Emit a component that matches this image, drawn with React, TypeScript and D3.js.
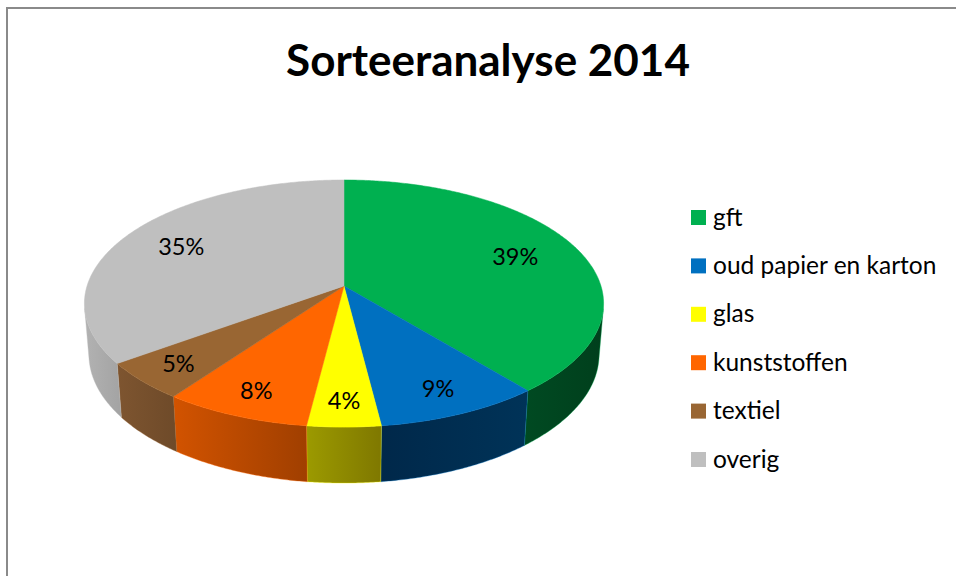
import React from 'react';
import * as d3 from 'd3';

const title = 'Sorteeranalyse 2014';
const categories = ['gft', 'oud papier en karton', 'glas', 'kunststoffen', 'textiel', 'overig'];
const values = [39, 9, 4, 8, 5, 35];
const topColors = ['#00B050', '#0070C0', '#FFFF00', '#FF6600', '#996633', '#BFBFBF'];
const sideLeft = ['#004a22', '#00284a', '#9c9a00', '#d25300', '#7e5530', '#b2b2b2'];
const sideRight = ['#003f1c', '#003358', '#7f7800', '#a03f00', '#6e4a29', '#a3a3a3'];

const W = 956;
const H = 576;

// 3D projection parameters
const cx = 344;
const cy = 286;
const R = 0.1606;
const D = 1;
const F = 1600;
const sinP = 0.471;
const cosP = 0.882;
const depthH = 0.0365;

function proj(a: number, r: number, Y: number): [number, number] {
  const X = r * R * Math.sin(a);
  const Z = r * R * Math.cos(a);
  const depth = Z * cosP - Y * sinP;
  const k = F / (D + depth);
  return [cx + X * k, cy - (Z * sinP + Y * cosP) * k];
}

function arcPts(a0: number, a1: number, Y: number): [number, number][] {
  const n = Math.max(2, Math.ceil(Math.abs(a1 - a0) / (Math.PI / 360)));
  const pts: [number, number][] = [];
  for (let i = 0; i <= n; i++) {
    const a = a0 + ((a1 - a0) * i) / n;
    pts.push(proj(a, 1, Y));
  }
  return pts;
}

export default function App() {
  const total = d3.sum(values);
  const pie = d3.pie<number>().sort(null).value((d) => d);
  const arcs = pie(values);
  const line = d3.line();

  const visMin = Math.acos(-R / (D * cosP));
  const visMax = 2 * Math.PI - visMin;

  const walls = arcs
    .map((d, i) => {
      const a0 = Math.max(d.startAngle, visMin);
      const a1 = Math.min(d.endAngle, visMax);
      if (a1 <= a0) return null;
      const top = arcPts(a0, a1, 0);
      const bot = arcPts(a1, a0, -depthH);
      const pts = [...top, ...bot];
      const xs = pts.map((p) => p[0]);
      return { i, path: line(pts) + 'Z', x0: d3.min(xs)!, x1: d3.max(xs)! };
    })
    .filter((w) => w !== null) as { i: number; path: string; x0: number; x1: number }[];

  const tops = arcs.map((d, i) => {
    const pts = [proj(0, 0, 0), ...arcPts(d.startAngle, d.endAngle, 0)];
    return { i, path: line(pts) + 'Z' };
  });

  const labelPos = arcs.map((d, i) => {
    const mid = (d.startAngle + d.endAngle) / 2;
    const t = 0.85 - 0.3 * (values[i] / total);
    return proj(mid, t, 0);
  });

  const legendX = 691;
  const legendY0 = 210;
  const legendStep = 48.4;

  return (
    <svg width={W} height={H} style={{ position: 'absolute', left: 0, top: 0 }}>
      <defs>
        {walls.map((w) => (
          <linearGradient key={w.i} id={`wall${w.i}`} gradientUnits="userSpaceOnUse" x1={w.x0} x2={w.x1} y1={0} y2={0}>
            <stop offset="0%" stopColor={sideLeft[w.i]} />
            <stop offset="100%" stopColor={sideRight[w.i]} />
          </linearGradient>
        ))}
      </defs>
      <rect x={0} y={0} width={W} height={H} fill="#ffffff" />
      <rect x={7} y={8} width={W + 20} height={H + 20} fill="none" stroke="#8a8a8a" strokeWidth={2} />
      <text
        x={488}
        y={76}
        textAnchor="middle"
        fontFamily="Lato, 'Open Sans', sans-serif"
        fontWeight="bold"
        fontSize={44}
        fill="#000"
      >
        {title}
      </text>
      <g>
        {walls.map((w) => (
          <path key={w.i} d={w.path} fill={`url(#wall${w.i})`} stroke={topColors[w.i]} strokeWidth={0.6} strokeOpacity={0.6} />
        ))}
        {tops.map((t) => (
          <path key={t.i} d={t.path} fill={topColors[t.i]} stroke={topColors[t.i]} strokeWidth={0.5} />
        ))}
        {labelPos.map((p, i) => (
          <text
            key={i}
            x={p[0]}
            y={p[1]}
            dy="0.35em"
            textAnchor="middle"
            fontFamily="Lato, 'Open Sans', sans-serif"
            fontSize={23.5}
            fill="#000"
          >
            {`${Math.round((values[i] / total) * 100)}%`}
          </text>
        ))}
      </g>
      <g>
        {categories.map((c, i) => (
          <g key={c} transform={`translate(${legendX},${legendY0 + i * legendStep})`}>
            <rect x={0} y={0} width={15} height={15} fill={topColors[i]} />
            <text x={22} y={15.5} fontFamily="Lato, 'Open Sans', sans-serif" fontSize={24.5} fill="#000">
              {c}
            </text>
          </g>
        ))}
      </g>
    </svg>
  );
}
